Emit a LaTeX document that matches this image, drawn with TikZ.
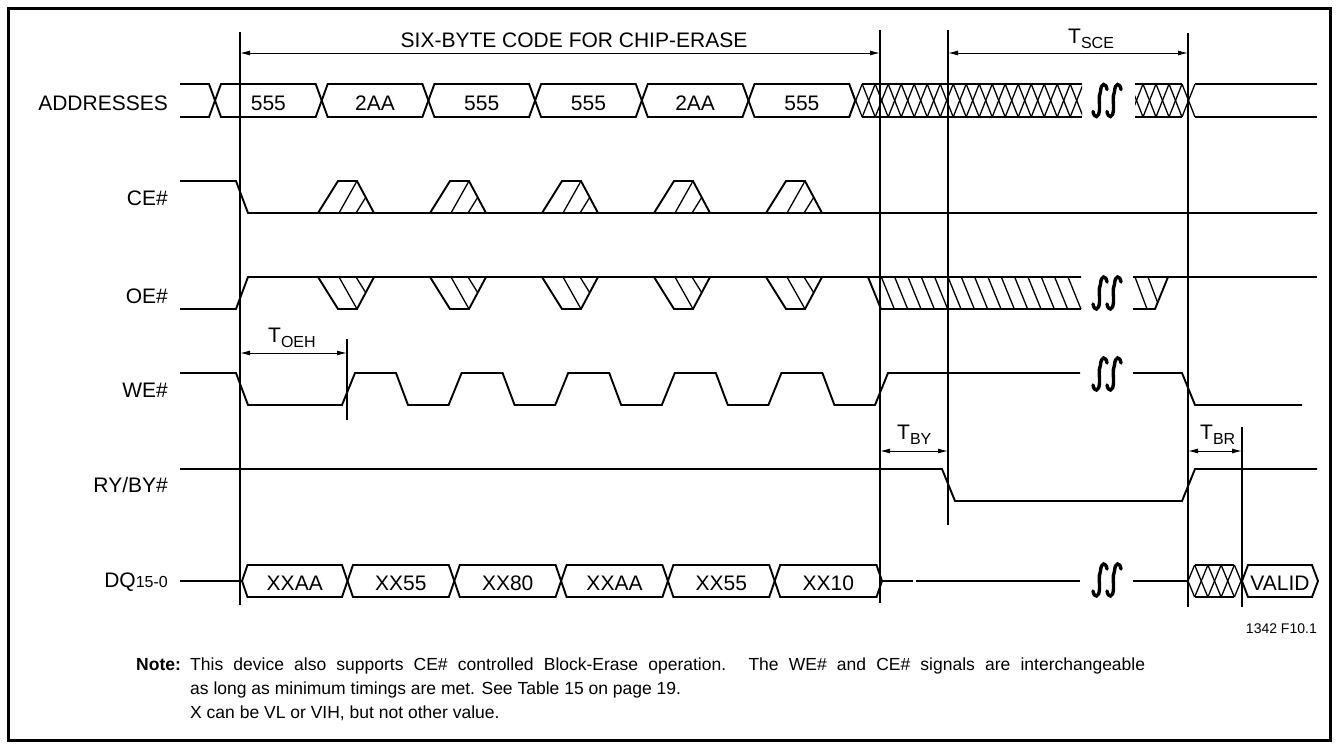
\documentclass[tikz,border=0pt]{standalone}
\usepackage{fontspec}
\setmainfont{Liberation Sans}
\usetikzlibrary{arrows.meta}
\newcommand\mysubtxt[1]{{\fontsize{16}{16}\selectfont\raisebox{-5pt}{#1}}}
\newcommand\drawsquig[2]{%
 \foreach \dx in {-7,7}{%
  \draw[line width=3.4pt,line cap=round] ({#1+\dx-7},{#2+11}) .. controls ({#1+\dx-6},{#2+18}) and ({#1+\dx-1},{#2+18}) .. ({#1+\dx-0.5},{#2+9}) .. controls ({#1+\dx},{#2+3}) and ({#1+\dx-2},{#2-3}) .. ({#1+\dx+0.5},{#2-9}) .. controls ({#1+\dx+1},{#2-18}) and ({#1+\dx+6},{#2-18}) .. ({#1+\dx+7},{#2-11});
 }}
\begin{document}
\begin{tikzpicture}[x=1pt,y=-1pt,
 sig/.style={line width=1.9pt},
 thin hatch/.style={line width=1.3pt},
 vline/.style={line width=1.3pt},
 dimline/.style={line width=1pt,{Latex[length=10pt,width=5pt]}-{Latex[length=10pt,width=5pt]}},
 big/.style={font=\fontsize{21}{25}\selectfont, inner sep=0pt},
 lbl/.style={big, anchor=base east},
 val/.style={big, anchor=base},
 tl/.style={big, anchor=base west},
 notefont/.style={font=\fontsize{17.5}{21}\selectfont, inner sep=0pt, anchor=base west}]
\useasboundingbox (0,0) rectangle (1338,748);
\draw[line width=3pt] (8,8) rectangle (1330,740);

% ---------- vertical reference lines
\coordinate (v1t) at (240,32);   \coordinate (v1b) at (240,605);
\coordinate (v2t) at (880,30);   \coordinate (v2b) at (880,603);
\coordinate (v3t) at (948,30);   \coordinate (v3b) at (948,525);
\coordinate (v4t) at (1188,33);  \coordinate (v4b) at (1188,607);
\coordinate (v5t) at (1242,427); \coordinate (v5b) at (1242,607);
\coordinate (v6t) at (347,339);  \coordinate (v6b) at (347,420);
\foreach \v in {1,...,6} \draw[vline] (v\v t) -- (v\v b);

% ---------- dimension arrows
\coordinate (sixL) at (240,53);  \coordinate (sixR) at (880,53);
\coordinate (sceL) at (948,53);  \coordinate (sceR) at (1188,53);
\coordinate (oehL) at (240,353); \coordinate (oehR) at (347,353);
\coordinate (byL) at (880,451);  \coordinate (byR) at (948,451);
\coordinate (brL) at (1188,451); \coordinate (brR) at (1242,451);
\draw[dimline] (sixL) -- (sixR);
\draw[dimline] (sceL) -- (sceR);
\draw[dimline] (oehL) -- (oehR);
\draw[dimline] (byL) -- (byR);
\draw[dimline] (brL) -- (brR);
\node[val] (six) at (574,47) {SIX-BYTE CODE FOR CHIP-ERASE};
\node[tl] (tsce) at (1068,43) {T\mysubtxt{SCE}};
\node[tl] (toeh) at (268,342) {T\mysubtxt{OEH}};
\node[tl] (tby) at (897,439) {T\mysubtxt{BY}};
\node[tl] (tbr) at (1200,439) {T\mysubtxt{BR}};

% ---------- signal names
\node[lbl] (nAddr) at (168,110) {ADDRESSES};
\node[lbl] (nCE) at (168,205) {CE\#};
\node[lbl] (nOE) at (168,303) {OE\#};
\node[lbl] (nWE) at (168,397) {WE\#};
\node[lbl] (nRY) at (168,492) {RY/BY\#};
\node[lbl] (nDQ) at (168,587) {DQ{\fontsize{16}{16}\selectfont 15-0}};

% ---------- ADDRESSES
\draw[sig] (180,84) -- (209,84) -- (215,100.5) -- (209,117) -- (180,117);
\foreach \k in {0,...,5}{
  \pgfmathsetmacro\l{209+106.7*\k}
  \pgfmathsetmacro\r{209+106.7*(\k+1)}
  \draw[sig] ({\l+6},100.5) -- ({\l+12},84) -- (\r,84) -- ({\r+6},100.5) -- (\r,117) -- ({\l+12},117) -- cycle;
}
\foreach \t [count=\k from 0] in {555,2AA,555,555,2AA,555}
  \node[val] (a\k) at ({268.35+106.7*\k},110) {\t};
\draw[sig] (862,84) -- (1082,84);
\draw[sig] (862,117) -- (1082,117);
\begin{scope}
  \clip (849.2,70) rectangle (1082,130);
  \foreach \j in {0,...,17}{
    \draw[thin hatch] ({849.2+13*\j},84) -- ({862.2+13*\j},117);
    \draw[thin hatch] ({849.2+13*\j},117) -- ({862.2+13*\j},84);
  }
\end{scope}
\draw[sig] (1135,84) -- (1182,84);
\draw[sig] (1135,117) -- (1182,117);
\begin{scope}
  \clip (1135,70) rectangle (1195,130);
  \foreach \j in {0,...,4}{
    \draw[thin hatch] ({1130+13*\j},84) -- ({1143+13*\j},117);
    \draw[thin hatch] ({1130+13*\j},117) -- ({1143+13*\j},84);
  }
\end{scope}
\draw[sig] (1195,84) -- (1317,84);
\draw[sig] (1195,117) -- (1317,117);
\drawsquig{1107}{100.5}

% ---------- CE#
\draw[sig] (180,181) -- (236,181) -- (248,213) -- (1317,213);
\foreach \k in {0,...,4}{
  \pgfmathsetmacro\x{318+112*\k}
  \draw[sig] (\x,213) -- ({\x+20},181) -- ({\x+39},181) -- ({\x+56},213);
  \draw[thin hatch] ({\x+21},213) -- ({\x+39},181);
  \draw[thin hatch] ({\x+38},213) -- ({\x+47.7},197.4);
}

% ---------- OE#
\draw[sig] (180,309) -- (236,309) -- (248,277) -- (1081,277);
\foreach \k in {0,...,4}{
  \pgfmathsetmacro\x{318+112*\k}
  \draw[sig] (\x,277) -- ({\x+20},309) -- ({\x+39},309) -- ({\x+56},277);
  \draw[thin hatch] ({\x+21},277) -- ({\x+39},309);
  \draw[thin hatch] ({\x+38},277) -- ({\x+47.7},292.6);
}
\draw[sig] (868,277) -- (881,309) -- (1081,309);
\foreach \j in {1,...,15}
  \draw[thin hatch] ({868+13.33*\j},277) -- ({881+13.33*\j},309);
\draw[sig] (1133,277) -- (1317,277);
\draw[sig] (1133,309) -- (1155,309) -- (1168,277);
\draw[thin hatch] (1135,277) -- (1147,309);
\draw[thin hatch] (1148,277) -- (1157.6,302.6);
\drawsquig{1107}{293}

% ---------- WE#
\draw[sig] (180,373) -- (236,373) -- (248,405)
  \foreach \k in {0,...,4}{
    -- ({342+106.6*\k},405) -- ({355+106.6*\k},373) -- ({396+106.6*\k},373) -- ({408+106.6*\k},405)
  } -- (875,405) -- (888,373) -- (1080,373);
\draw[sig] (1133,373) -- (1182,373) -- (1195,405) -- (1302,405);
\drawsquig{1107}{374}

% ---------- RY/BY#
\draw[sig] (180,469) -- (942,469) -- (955,501) -- (1182,501) -- (1195,469) -- (1317,469);

% ---------- DQ
\draw[sig] (180,581) -- (242,581);
\foreach \l/\r in {242/347.5, 347.5/454.3, 454.3/561.1, 561.1/667.9, 667.9/774.7, 774.7/882}
  \draw[sig] (\l,581) -- ({\l+5.5},565) -- ({\r-5.5},565) -- (\r,581) -- ({\r-5.5},597) -- ({\l+5.5},597) -- cycle;
\foreach \t/\c [count=\k] in {XXAA/294.75, XX55/400.9, XX80/507.7, XXAA/614.5, XX55/721.3, XX10/828.35}
  \node[val] (d\k) at (\c,590) {\t};
\draw[sig] (882,581) -- (913,581);
\draw[sig] (916,581) -- (1080,581);
\draw[sig] (1133,581) -- (1188,581);
\draw[sig] (1194.6,565) -- (1234.4,565);
\draw[sig] (1194.6,597) -- (1234.4,597);
\begin{scope}
  \clip (1188,550) rectangle (1241,610);
  \foreach \j in {0,...,4}{
    \draw[thin hatch] ({1181.4+13.25*\j},597) -- ({1194.6+13.25*\j},565);
    \draw[thin hatch] ({1181.4+13.25*\j},565) -- ({1194.6+13.25*\j},597);
  }
\end{scope}
\draw[sig] (1242,581) -- (1248,565) -- (1312,565) -- (1318,581) -- (1312,597) -- (1248,597) -- cycle;
\node[val] (dvalid) at (1280,590) {VALID};
\drawsquig{1107}{580}

% ---------- figure id and note
\node[font=\fontsize{14}{16}\selectfont, inner sep=0pt, anchor=base east] (fid) at (1317,633) {1342 F10.1};
\node[notefont] (noteH) at (136,670) {\textbf{Note:}};
\node[notefont] (note1) at (190,670) {\makebox[955pt][s]{This device also supports CE\# controlled Block-Erase operation. The WE\# and CE\# signals are interchangeable}};
\node[notefont] (note2) at (190,694) {as long as minimum timings are met. See Table 15 on page 19.};
\node[notefont] (note3) at (190,718) {X can be VL or VIH, but not other value.};
\end{tikzpicture}
\end{document}
